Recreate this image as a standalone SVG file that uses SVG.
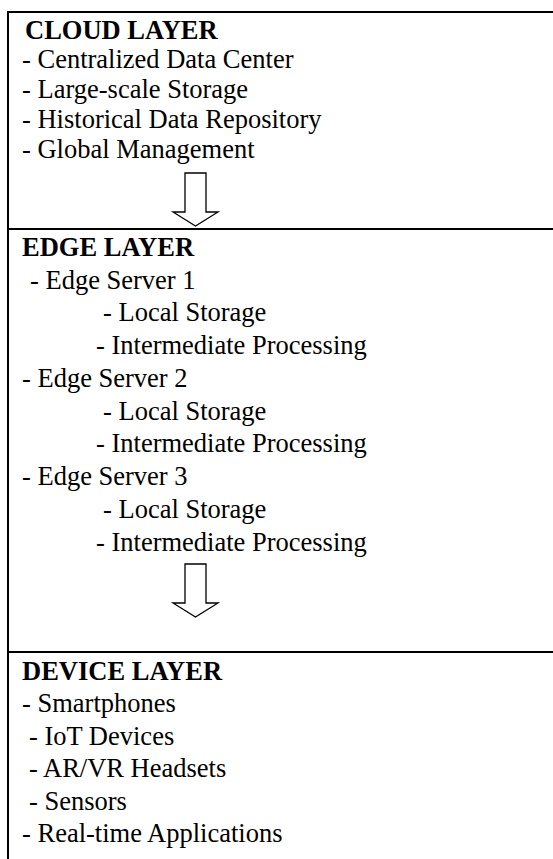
<svg xmlns="http://www.w3.org/2000/svg" width="553" height="859" viewBox="0 0 553 859">
<style>
.t{font-family:"Liberation Serif","Times New Roman",serif;font-size:26.5px;fill:#000}
.h{font-weight:bold}
.ln{stroke:#000;stroke-width:2;fill:none}
.ar{stroke:#000;stroke-width:1.3;fill:#fff;stroke-linejoin:miter}
</style>
<rect width="553" height="859" fill="#fff"/>
<g id="frame">
<line class="ln" x1="8" y1="12" x2="553" y2="12"/>
<line class="ln" x1="8" y1="11" x2="8" y2="859"/>
</g>
<g id="cloud">
<line class="ln" x1="8" y1="229" x2="553" y2="229"/>
<text class="t h" x="25" y="39">CLOUD LAYER</text>
<text class="t" x="22" y="68">- Centralized Data Center</text>
<text class="t" x="22" y="98">- Large-scale Storage</text>
<text class="t" x="22" y="128">- Historical Data Repository</text>
<text class="t" x="22" y="158">- Global Management</text>
</g>
<g id="edge">
<text class="t h" x="22" y="256">EDGE LAYER</text>
<text class="t" x="30" y="289">- Edge Server 1</text>
<text class="t" x="103" y="321">- Local Storage</text>
<text class="t" x="96" y="354">- Intermediate Processing</text>
<text class="t" x="22" y="387">- Edge Server 2</text>
<text class="t" x="103" y="420">- Local Storage</text>
<text class="t" x="96" y="452">- Intermediate Processing</text>
<text class="t" x="22" y="485">- Edge Server 3</text>
<text class="t" x="103" y="518">- Local Storage</text>
<text class="t" x="96" y="551">- Intermediate Processing</text>
</g>
<g id="device">
<line class="ln" x1="8" y1="652" x2="553" y2="652"/>
<text class="t h" x="22" y="680">DEVICE LAYER</text>
<text class="t" x="22" y="712">- Smartphones</text>
<text class="t" x="29" y="745">- IoT Devices</text>
<text class="t" x="29" y="777">- AR/VR Headsets</text>
<text class="t" x="29" y="810">- Sensors</text>
<text class="t" x="22" y="842">- Real-time Applications</text>
</g>
<g id="connectors">
<path class="ar" d="M185,173 H206 V212 H218 L195.5,226 L173,212 H185 Z"/>
<path class="ar" d="M185,564 H206 V603 H218 L195.5,617 L173,603 H185 Z"/>
</g>
</svg>
